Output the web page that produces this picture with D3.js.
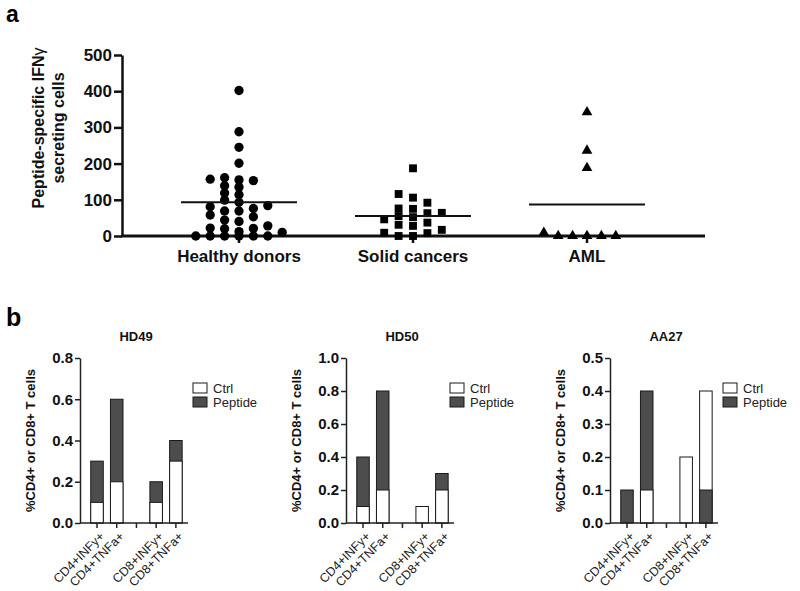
<!DOCTYPE html>
<html>
<head>
<meta charset="utf-8">
<script src="https://cdn.jsdelivr.net/npm/d3@7"></script>
<style>
  body { margin: 0; background: #fff; }
  svg { font-family: Arial, "Liberation Sans", sans-serif; }
</style>
</head>
<body>
<svg id="chart" width="800" height="591"></svg>
<script>
// ---- Panel a data ----
var groups = ['Healthy donors', 'Solid cancers', 'AML'];
var healthyDonors = [402, 288, 245, 201, 153, 93, 69, 40, 10, 0,
  155, 99, 76, 53, 12,
  161, 119, 84, 58, 21, 0,
  157, 135, 114, 81, 44, 22, 0,
  139, 69, 28, 0,
  0, 20, 0];
var solidCancers = [64, 0, 76, 46, 17, 187, 106, 75, 52, 28, 8, 116, 92, 55, 31, 9, 63, 37, 0];
var aml = [342, 236, 188, 0, 9, 0, 0, 0, 0];
var groupMeans = [93, 55, 87];
var yTicksA = [0, 100, 200, 300, 400, 500];

// ---- Panel b data ----
var cellTypes = ['CD4+INFy+', 'CD4+TNFa+', 'CD8+INFy+', 'CD8+TNFa+'];
var donors = ['HD49', 'HD50', 'AA27'];
var hd49Ctrl = [0.1, 0.2, 0.1, 0.3];
var hd49Peptide = [0.3, 0.6, 0.2, 0.4];
var hd50Ctrl = [0.1, 0.2, 0.1, 0.2];
var hd50Peptide = [0.4, 0.8, 0, 0.3];
var aa27Ctrl = [0, 0.1, 0.2, 0.4];
var aa27Peptide = [0.1, 0.4, 0, 0.1];
var yMaxB = [0.8, 1.0, 0.5];
var yStepB = [0.2, 0.2, 0.1];
var legendLabels = ['Ctrl', 'Peptide'];

var svg = d3.select('#chart');
var ink = '#111';

// panel letters
svg.append('text').attr('x', 6).attr('y', 22)
  .style('font-size', '23px').style('font-weight', 'bold').text('a');
svg.append('text').attr('x', 6).attr('y', 326)
  .style('font-size', '25px').style('font-weight', 'bold').text('b');

// ================= Panel a =================
var yA = d3.scaleLinear().domain([0, 500]).range([236, 55]);
var xA = d3.scalePoint().domain(groups).range([239, 587]);
var colStep = 14.4;

// simple column swarm: lowest values first, nearest free column to the centre
function swarm(values) {
  var cols = {};
  var order = [0, -1, 1, -2, 2, -3, 3];
  return values.slice().sort((a, b) => a - b).map((v) => {
    var py = yA(v), best = 0, bestGap = -1;
    for (var k of order) {
      var placed = cols[k] || [];
      var gap = placed.length ? d3.min(placed, (p) => Math.abs(p - py)) : Infinity;
      if (gap >= 7) { best = k; break; }
      if (gap > bestGap) { bestGap = gap; best = k; }
    }
    (cols[best] = cols[best] || []).push(py);
    return { value: v, offset: best };
  });
}

var seriesA = [healthyDonors, solidCancers, aml];
var symbols = [
  d3.symbol().type(d3.symbolCircle).size(68),
  d3.symbol().type(d3.symbolSquare).size(62),
  d3.symbol().type(d3.symbolTriangle).size(50)
];

// Y axis
var yAxisA = svg.append('g')
  .attr('transform', 'translate(122,0)')
  .call(d3.axisLeft(yA).tickValues(yTicksA).tickSize(8).tickSizeOuter(0).tickPadding(2));
yAxisA.select('.domain').attr('stroke', ink).attr('stroke-width', 2.5);
yAxisA.selectAll('.tick line').attr('stroke', ink).attr('stroke-width', 2.5);
yAxisA.selectAll('.tick text')
  .attr('fill', ink).style('font-size', '17px').style('font-weight', 'bold');

// X axis
svg.append('line')
  .attr('x1', 121).attr('x2', 705).attr('y1', yA(0)).attr('y2', yA(0))
  .attr('stroke', ink).attr('stroke-width', 3);
svg.selectAll('.xTickA')
  .data(groups)
  .enter().append('line')
  .attr('class', 'xTickA')
  .attr('x1', (d) => xA(d)).attr('x2', (d) => xA(d))
  .attr('y1', yA(0)).attr('y2', yA(0) + 7)
  .attr('stroke', ink).attr('stroke-width', 2.5);
svg.selectAll('.xLabelA')
  .data(groups)
  .enter().append('text')
  .attr('class', 'xLabelA')
  .attr('x', (d) => xA(d)).attr('y', 262)
  .attr('text-anchor', 'middle')
  .attr('fill', ink)
  .style('font-size', '17px').style('font-weight', 'bold')
  .text((d) => d);

// Y title (two lines)
var yTitleA = svg.append('text')
  .attr('transform', 'translate(44,128) rotate(-90)')
  .attr('text-anchor', 'middle')
  .attr('fill', ink)
  .style('font-size', '16px').style('font-weight', 'bold');
var t1 = yTitleA.append('tspan').attr('x', 0).attr('y', 0).text('Peptide-specific IFN');
t1.append('tspan').style('font-weight', 'normal').text('γ');
yTitleA.append('tspan').attr('x', 0).attr('y', 20).text('secreting cells');

// points
groups.forEach((g, i) => {
  svg.selectAll('.pt' + i)
    .data(swarm(seriesA[i]))
    .enter().append('path')
    .attr('class', 'pt' + i)
    .attr('d', symbols[i])
    .attr('fill', '#000')
    .attr('transform', (d) => `translate(${xA(g) + d.offset * colStep}, ${yA(d.value)})`);
});

// mean lines
svg.selectAll('.meanA')
  .data(groupMeans)
  .enter().append('line')
  .attr('class', 'meanA')
  .attr('x1', (d, i) => xA(groups[i]) - 58)
  .attr('x2', (d, i) => xA(groups[i]) + 58)
  .attr('y1', (d) => yA(d)).attr('y2', (d) => yA(d))
  .attr('stroke', ink).attr('stroke-width', 2);

// ================= Panel b =================
var ctrlB = [hd49Ctrl, hd50Ctrl, aa27Ctrl];
var peptideB = [hd49Peptide, hd50Peptide, aa27Peptide];
var bandDomain = [cellTypes[0], cellTypes[1], 'gap', cellTypes[2], cellTypes[3]];
var axisXB = [80, 346, 610];
var legendXB = [193, 450, 723];
var fills = { Ctrl: '#fff', Peptide: '#4d4d4d' };
var topB = 358, bottomB = 523;

donors.forEach((donor, i) => {
  var x0 = axisXB[i];
  var yB = d3.scaleLinear().domain([0, yMaxB[i]]).range([bottomB, topB]);
  var xB = d3.scaleBand().domain(bandDomain)
    .range([x0 + 7.2, x0 + 105.7])
    .paddingInner(0.365).paddingOuter(0.18);
  var g = svg.append('g');

  // title
  g.append('text')
    .attr('x', x0 + 56).attr('y', 341)
    .attr('text-anchor', 'middle').attr('fill', ink)
    .style('font-size', '13px').style('font-weight', 'bold')
    .text(donor);

  // bars: larger value drawn behind, smaller in front
  cellTypes.forEach((c, j) => {
    var pair = [
      { s: 'Ctrl', v: ctrlB[i][j] },
      { s: 'Peptide', v: peptideB[i][j] }
    ].filter((d) => d.v > 0).sort((a, b) => b.v - a.v);
    g.selectAll('.bar' + j)
      .data(pair)
      .enter().append('rect')
      .attr('class', 'bar' + j)
      .attr('x', xB(c)).attr('width', xB.bandwidth())
      .attr('y', (d) => yB(d.v)).attr('height', (d) => yB(0) - yB(d.v))
      .attr('fill', (d) => fills[d.s])
      .attr('stroke', '#1a1a1a').attr('stroke-width', 1);
  });

  // y axis
  var ticks = d3.range(0, yMaxB[i] + yStepB[i] / 2, yStepB[i]);
  var yAx = g.append('g')
    .attr('transform', `translate(${x0},0)`)
    .call(d3.axisLeft(yB).tickValues(ticks).tickFormat(d3.format('.1f'))
      .tickSize(5).tickSizeOuter(0).tickPadding(2));
  yAx.select('.domain').attr('stroke', '#222').attr('stroke-width', 1.5);
  yAx.selectAll('.tick line').attr('stroke', '#222').attr('stroke-width', 1.5);
  yAx.selectAll('.tick text').attr('fill', ink)
    .style('font-size', '15px').style('font-weight', 'bold');

  // x axis
  var xAx = g.append('g')
    .attr('transform', `translate(0,${yB(0)})`)
    .call(d3.axisBottom(xB).tickSize(5).tickSizeOuter(0)
      .tickFormat((d) => d === 'gap' ? '' : d));
  xAx.select('.domain').remove();
  xAx.append('line').attr('x1', x0).attr('x2', x0 + 108)
    .attr('stroke', '#222').attr('stroke-width', 1.5);
  xAx.selectAll('.tick line').attr('stroke', '#222').attr('stroke-width', 1.5);
  xAx.selectAll('.tick text')
    .attr('y', 0).attr('dy', '0.35em')
    .attr('transform', 'translate(5,11) rotate(-45)')
    .attr('text-anchor', 'end')
    .attr('fill', '#222')
    .style('font-size', '12.5px');

  // y title
  g.append('text')
    .attr('transform', `translate(${x0 - 50},${(topB + bottomB) / 2}) rotate(-90)`)
    .attr('text-anchor', 'middle').attr('dy', '0.35em')
    .attr('fill', ink)
    .style('font-size', '13px').style('font-weight', 'bold')
    .text('%CD4+ or CD8+ T cells');

  // legend
  var lg = g.selectAll('.legend')
    .data(legendLabels)
    .enter().append('g')
    .attr('class', 'legend')
    .attr('transform', (d, k) => `translate(${legendXB[i]}, ${383 + k * 14})`);
  lg.append('rect')
    .attr('width', 14).attr('height', 10)
    .attr('fill', (d) => fills[d])
    .attr('stroke', '#1a1a1a').attr('stroke-width', 1);
  lg.append('text')
    .attr('x', 20).attr('y', 5).attr('dy', '0.35em')
    .attr('fill', '#222')
    .style('font-size', '13px')
    .text((d) => d);
});
</script>
</body>
</html>
